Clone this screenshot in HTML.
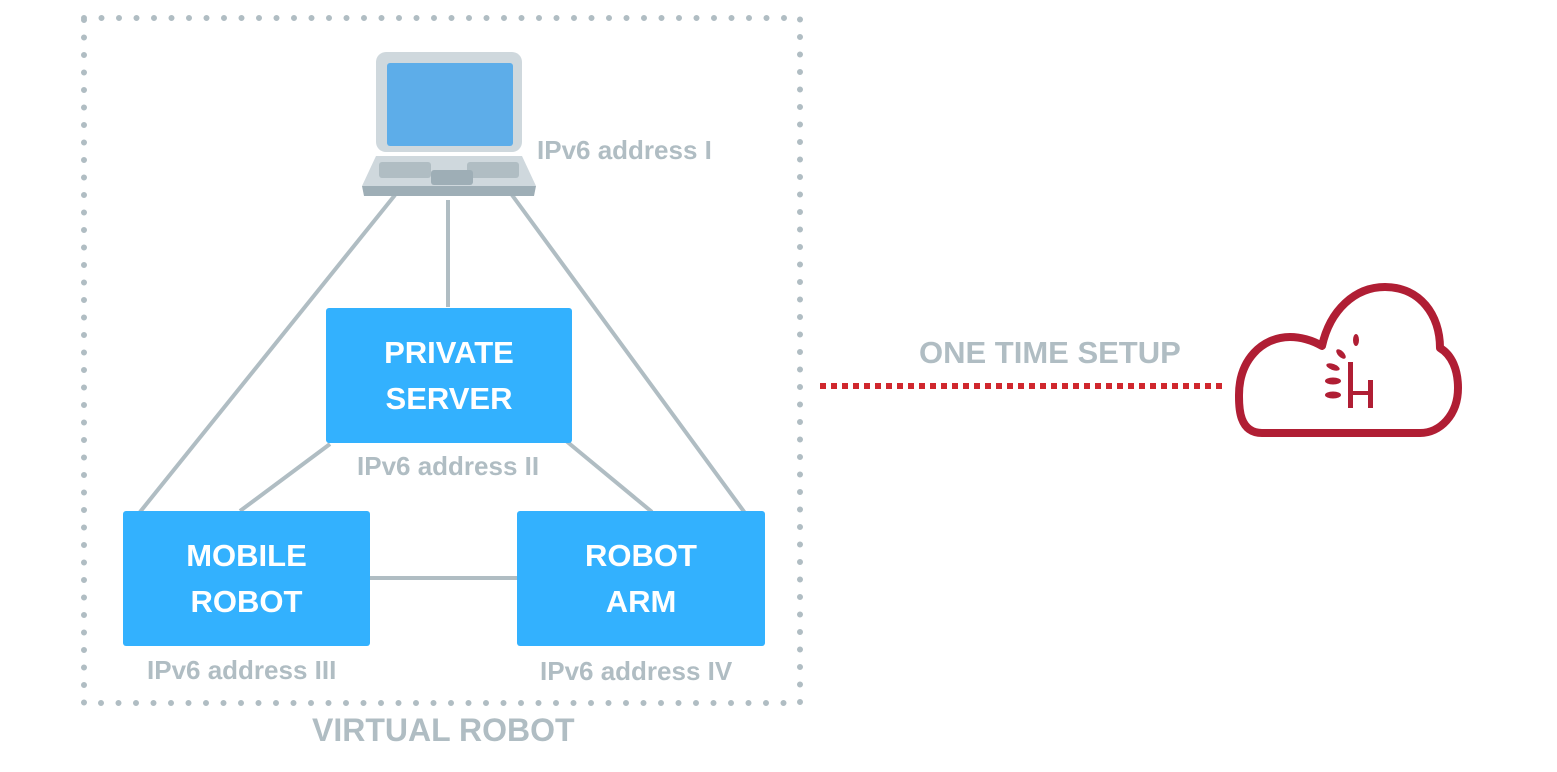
<!DOCTYPE html>
<html><head><style>
body{margin:0;width:1557px;height:772px;background:#fff;overflow:hidden;position:relative;font-family:"Liberation Sans",sans-serif}
.box{position:absolute;background:#33b1fe;color:#fff;font-weight:bold;font-size:31px;line-height:46px;text-align:center;display:flex;align-items:center;justify-content:center;border-radius:3px}
.lbl{position:absolute;color:#b0bdc3;font-weight:bold;font-size:26px;white-space:nowrap}
</style></head><body>
<svg width="1557" height="772" style="position:absolute;left:0;top:0">
<rect x="84" y="18" width="716" height="685" fill="none" stroke="#b0bdc3" stroke-width="6" stroke-linecap="round" stroke-dasharray="0 17.5"/>
<g stroke="#b0bdc3" stroke-width="4">
<line x1="395" y1="195" x2="140" y2="512"/>
<line x1="448" y1="200" x2="448" y2="307"/>
<line x1="512" y1="195" x2="745" y2="513"/>
<line x1="330" y1="444" x2="240" y2="511"/>
<line x1="565" y1="440" x2="652" y2="512"/>
<line x1="370" y1="578" x2="518" y2="578"/>
</g>
<rect x="376" y="52" width="146" height="100" rx="10" fill="#cfd8dd"/>
<rect x="387" y="63" width="126" height="83" rx="3" fill="#5dade9"/>
<path d="M376 156 L522 156 L536 186 L362 186 Z" fill="#cfd8dd"/>
<path d="M362 186 L536 186 L534 196 L364 196 Z" fill="#9eaeb6"/>
<rect x="379" y="162" width="52" height="16" rx="3" fill="#b0bdc3"/>
<rect x="467" y="162" width="52" height="16" rx="3" fill="#b0bdc3"/>
<rect x="431" y="170" width="42" height="15" rx="3" fill="#9eaeb6"/>
<g fill="#d0282e">
<script>/*no*/</script>
</g>
<line x1="820" y1="386" x2="1226" y2="386" stroke="#d0282e" stroke-width="6" stroke-dasharray="6 5"/>
<path d="M1262 433 C1238 433 1239 405 1239 395 C1239 360 1262 337 1290 337 C1300 337 1312 340 1322 346 C1330 310 1355 287 1385 287 C1420 287 1440 315 1440 348 C1452 355 1458 370 1458 388 C1458 415 1440 433 1420 433 Z" fill="none" stroke="#b01e34" stroke-width="8" stroke-linejoin="round"/>
<g fill="#b01e34">
<rect x="1348" y="362" width="5" height="46"/><rect x="1368" y="380" width="5" height="28"/><rect x="1348" y="391" width="24" height="4"/>
<ellipse cx="1333" cy="395" rx="8" ry="3.5"/><ellipse cx="1333" cy="381" rx="8" ry="3.5"/><ellipse cx="1333" cy="367" rx="7" ry="3" transform="rotate(20 1333 367)"/>
<ellipse cx="1341" cy="354" rx="6" ry="3" transform="rotate(45 1341 354)"/><ellipse cx="1356" cy="340" rx="3" ry="6"/>
</g>
</svg>
<div class="box" style="left:326px;top:308px;width:246px;height:135px">PRIVATE<br>SERVER</div>
<div class="box" style="left:123px;top:511px;width:247px;height:135px">MOBILE<br>ROBOT</div>
<div class="box" style="left:517px;top:511px;width:248px;height:135px">ROBOT<br>ARM</div>
<div class="lbl" style="left:537px;top:135px">IPv6 address I</div>
<div class="lbl" style="left:357px;top:451px">IPv6 address II</div>
<div class="lbl" style="left:147px;top:655px">IPv6 address III</div>
<div class="lbl" style="left:540px;top:656px">IPv6 address IV</div>
<div class="lbl" style="left:919px;top:335px;font-size:31px">ONE TIME SETUP</div>
<div class="lbl" style="left:312px;top:712px;font-size:32px">VIRTUAL ROBOT</div>
</body></html>
